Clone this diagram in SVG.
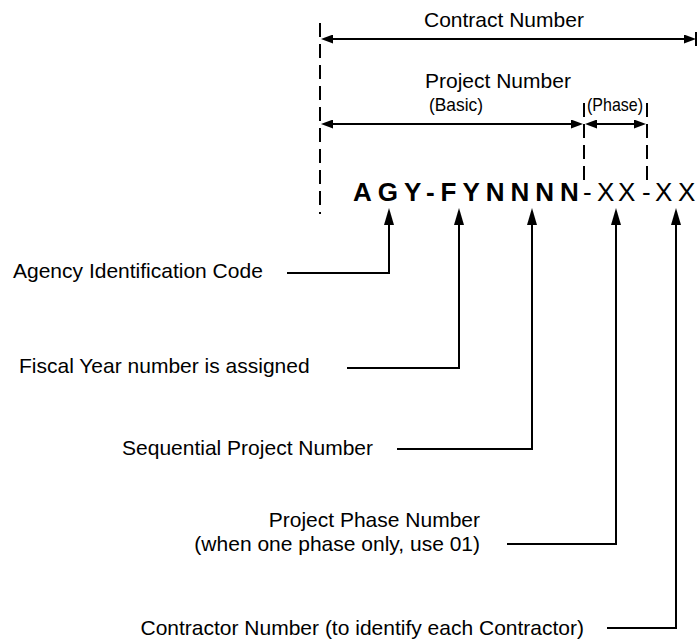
<svg xmlns="http://www.w3.org/2000/svg" width="697" height="643" viewBox="0 0 697 643">
<style>
text{font-family:"Liberation Sans",Arial,sans-serif;fill:#000}
.lbl{font-size:21px}
.sub{font-size:19px}
.code{font-size:26px}
.conn{fill:none;stroke:#000;stroke-width:2}
.dash{fill:none;stroke:#000;stroke-width:2;stroke-dasharray:14 7}
.dim{fill:none;stroke:#000;stroke-width:2}
</style>
<defs>
<marker id="up" markerUnits="userSpaceOnUse" viewBox="0 0 17 10" markerWidth="17" markerHeight="10" refX="7" refY="5" orient="auto"><path d="M0,0 L17,5 L0,10 Z" fill="#000"/></marker>
<marker id="dimA" markerUnits="userSpaceOnUse" viewBox="0 0 12 9" markerWidth="12" markerHeight="9" refX="4" refY="4.5" orient="auto-start-reverse"><path d="M0,0 L12,4.5 L0,9 Z" fill="#000"/></marker>
</defs>
<g id="dimensions">
<line class="dash" x1="320" y1="23" x2="320" y2="214"/>
<line class="dash" x1="584" y1="103" x2="584" y2="186"/>
<line class="dash" x1="647" y1="103" x2="647" y2="186"/>
<line class="dim" x1="696" y1="32" x2="696" y2="46"/>
<path class="dim" d="M329,39 H688" marker-start="url(#dimA)" marker-end="url(#dimA)"/>
<path class="dim" d="M329,124 H575" marker-start="url(#dimA)" marker-end="url(#dimA)"/>
<path class="dim" d="M593,124 H638" marker-start="url(#dimA)" marker-end="url(#dimA)"/>
<text class="lbl" x="424" y="27">Contract Number</text>
<text class="lbl" x="425" y="88">Project Number</text>
<text class="sub" x="429" y="111" textLength="54" lengthAdjust="spacingAndGlyphs">(Basic)</text>
<text class="sub" x="587" y="111" textLength="56" lengthAdjust="spacingAndGlyphs">(Phase)</text>
</g>
<g id="code">
<text class="code" x="353" y="201" font-weight="bold" letter-spacing="6">AGY-FYNNNN</text>
<text class="code" x="583 597 618 642 655 678" y="201">-XX-XX</text>
</g>
<g id="agency"><text class="lbl" x="13" y="278">Agency Identification Code</text></g>
<g id="fiscal"><text class="lbl" x="19" y="373">Fiscal Year number is assigned</text></g>
<g id="sequential"><text class="lbl" x="373" y="455" text-anchor="end">Sequential Project Number</text></g>
<g id="phase">
<text class="lbl" x="480" y="527" text-anchor="end">Project Phase Number</text>
<text class="lbl" x="480" y="551" text-anchor="end">(when one phase only, use 01)</text>
</g>
<g id="contractor"><text class="lbl" x="584" y="635" text-anchor="end">Contractor Number (to identify each Contractor)</text></g>
<g id="connectors">
<path class="conn" d="M287,273 H389 V218" marker-end="url(#up)"/>
<path class="conn" d="M347,368 H459 V218" marker-end="url(#up)"/>
<path class="conn" d="M397,449 H532 V218" marker-end="url(#up)"/>
<path class="conn" d="M507,544 H616 V218" marker-end="url(#up)"/>
<path class="conn" d="M607,628 H676 V218" marker-end="url(#up)"/>
</g>
</svg>
